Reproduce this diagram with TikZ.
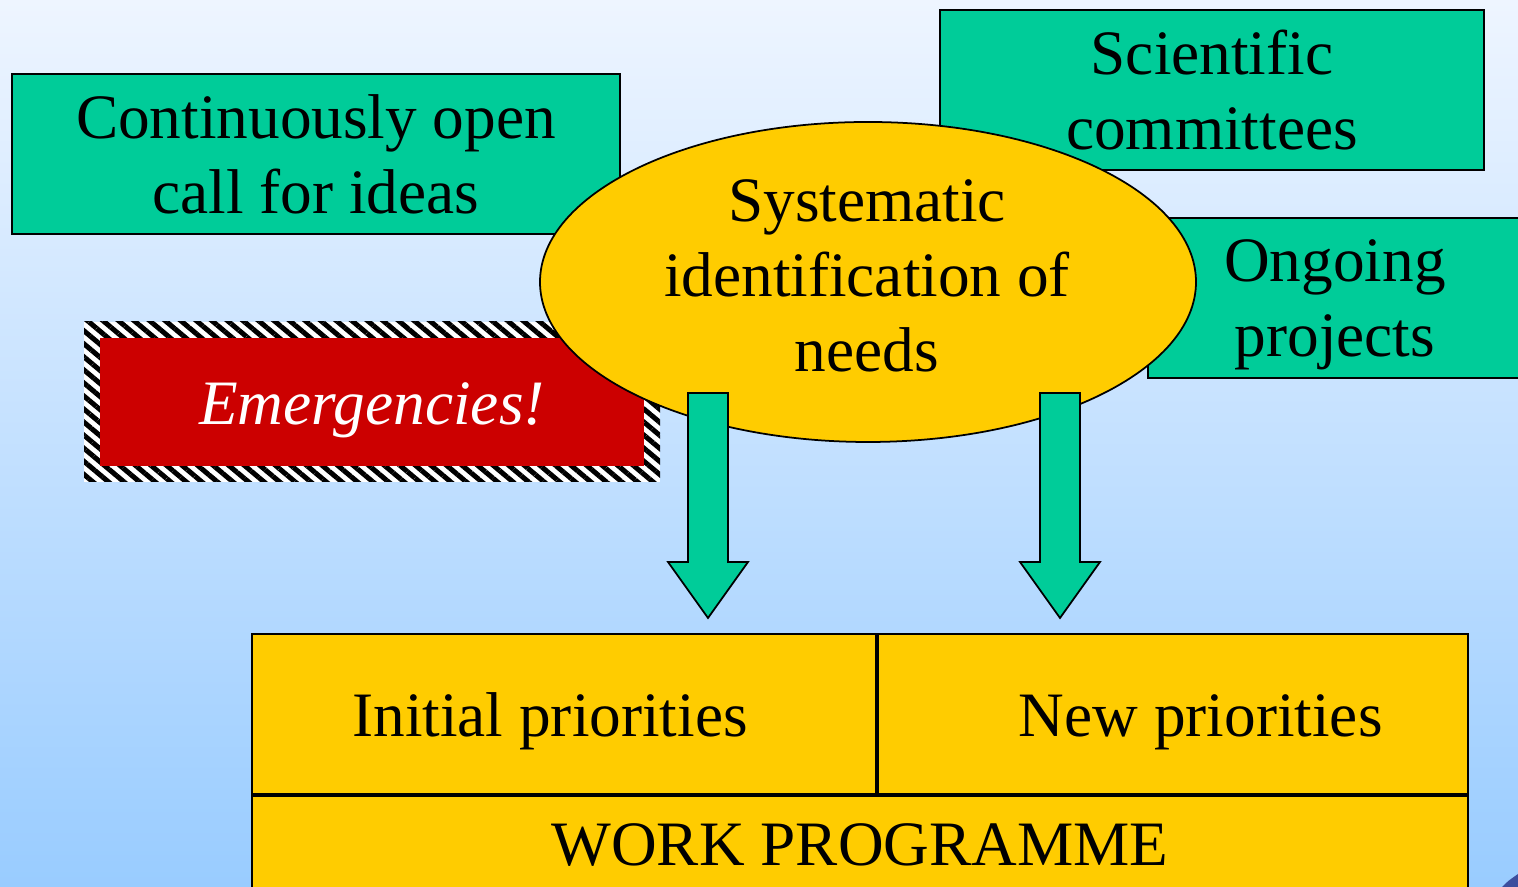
\documentclass[tikz,border=0pt]{standalone}
\usepackage{fontspec}
\setmainfont{Liberation Serif}
\usetikzlibrary{positioning,shapes.geometric,patterns.meta}

\definecolor{slidetop}{HTML}{EEF5FF}
\definecolor{slidebottom}{HTML}{99CCFF}
\definecolor{boxgreen}{HTML}{00CC99}
\definecolor{boxyellow}{HTML}{FFCC00}
\definecolor{boxred}{HTML}{CC0000}
\definecolor{cornerblue}{HTML}{3C4E9E}

\begin{document}
\begin{tikzpicture}[every node/.style={font=\fontsize{18}{21.3}\selectfont}]

	\tikzset{
	greenbox/.style={rectangle, draw=black, line width=0.5pt, fill=boxgreen, minimum height=1.6cm, align=center, inner sep=0pt},
	needsblob/.style={ellipse, draw=black, line width=0.5pt, fill=boxyellow, minimum width=6.56cm, minimum height=3.2cm, inner sep=0pt},
	hatchframe/.style={rectangle, preaction={fill=white}, pattern={Lines[angle=-40, distance=0.1cm, line width=0.05cm]}, minimum width=5.76cm, minimum height=1.6cm, inner sep=0pt},
	redbox/.style={rectangle, fill=boxred, text=white, minimum width=5.44cm, minimum height=1.28cm, inner sep=0pt},
	cell/.style={rectangle, draw=black, line width=0.5pt, fill=boxyellow, minimum height=1.6cm, inner sep=0pt},
	bigarrow/.style={draw=black, line width=0.5pt, fill=boxgreen, line join=miter}
	}

	% Background
	\useasboundingbox (0,0) rectangle (15.18,8.87);
	\clip (0,0) rectangle (15.18,8.87);
	\shade[top color=slidetop, bottom color=slidebottom] (0,0) rectangle (15.18,8.87);
	\fill[cornerblue] (15.02,0) .. controls (15.08,0.06) .. (15.18,0.13) -- (15.18,0) -- cycle;

	% Nodes
	\node[greenbox, minimum width=6.08cm] (ideas) at (3.16,7.33) {Continuously open\\call for ideas};
	\node[greenbox, minimum width=5.44cm] (committees) at (12.12,7.97) {Scientific\\committees};
	\node[greenbox, minimum width=3.74cm, text depth=0pt] (projects) at (13.35,5.89) {Ongoing\\projects};

	\node[hatchframe] (hatch) at (3.72,4.85) {};
	\node[redbox] (emergencies) at (hatch.center) {};
	\node[text=white, anchor=base] (emergtext) at ([yshift=-0.23cm]emergencies.center) {\textit{Emergencies!}};

	\node[needsblob] (needs) at (8.68,6.05) {};
	\node[align=center, inner sep=0pt] (needstext) at ([xshift=-0.01cm, yshift=0.06cm]needs.center) {Systematic\\identification of\\needs};

	\node[cell, minimum width=6.24cm] (initial) at (5.64,1.73) {};
	\node[cell, minimum width=5.90cm, right=0pt of initial] (new) {};
	\node[cell, minimum width=12.16cm, anchor=north west] (work) at (initial.south west) {};

	\node[anchor=base] (initialtext) at ([xshift=-0.14cm, yshift=-0.23cm]initial.center) {Initial priorities};
	\node[anchor=base] (newtext) at ([xshift=0.28cm, yshift=-0.23cm]new.center) {New priorities};
	\node[anchor=base] (worktext) at ([yshift=-0.71cm]work.north) {WORK PROGRAMME};

	% Arrows
	\coordinate (leftarrow) at (7.08,4.94);
	\coordinate (rightarrow) at (10.60,4.94);
	\draw[bigarrow] (leftarrow) ++(-0.2,0) -- ++(0,-1.69) -- ++(-0.2,0) -- ++(0.4,-0.56) -- ++(0.4,0.56) -- ++(-0.2,0) -- ++(0,1.69) -- cycle;
	\draw[bigarrow] (rightarrow) ++(-0.2,0) -- ++(0,-1.69) -- ++(-0.2,0) -- ++(0.4,-0.56) -- ++(0.4,0.56) -- ++(-0.2,0) -- ++(0,1.69) -- cycle;

\end{tikzpicture}
\end{document}
